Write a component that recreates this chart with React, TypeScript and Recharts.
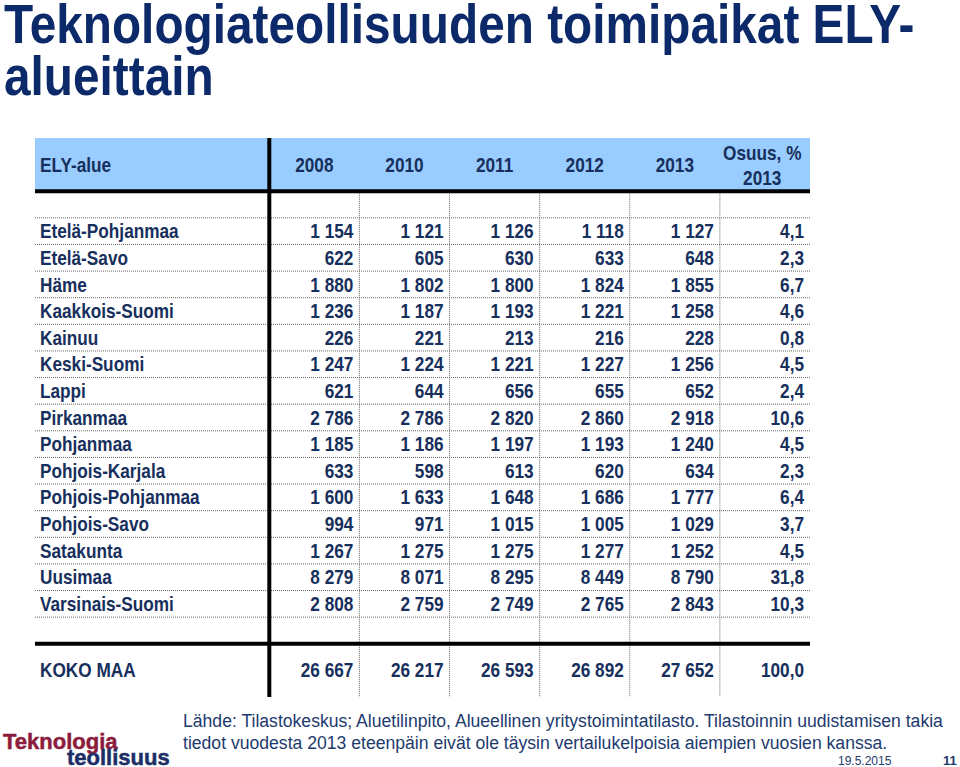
import React from "react";
import {
  ReferenceArea,
  ReferenceLine,
  Scatter,
  ScatterChart,
  XAxis,
  YAxis,
} from "recharts";

const regions = [
  "Etelä-Pohjanmaa",
  "Etelä-Savo",
  "Häme",
  "Kaakkois-Suomi",
  "Kainuu",
  "Keski-Suomi",
  "Lappi",
  "Pirkanmaa",
  "Pohjanmaa",
  "Pohjois-Karjala",
  "Pohjois-Pohjanmaa",
  "Pohjois-Savo",
  "Satakunta",
  "Uusimaa",
  "Varsinais-Suomi",
];

const years = ["2008", "2010", "2011", "2012", "2013"];

const v2008 = [1154, 622, 1880, 1236, 226, 1247, 621, 2786, 1185, 633, 1600, 994, 1267, 8279, 2808];
const v2010 = [1121, 605, 1802, 1187, 221, 1224, 644, 2786, 1186, 598, 1633, 971, 1275, 8071, 2759];
const v2011 = [1126, 630, 1800, 1193, 213, 1221, 656, 2820, 1197, 613, 1648, 1015, 1275, 8295, 2749];
const v2012 = [1118, 633, 1824, 1221, 216, 1227, 655, 2860, 1193, 620, 1686, 1005, 1277, 8449, 2765];
const v2013 = [1127, 648, 1855, 1258, 228, 1256, 652, 2918, 1240, 634, 1777, 1029, 1252, 8790, 2843];
const share2013 = [4.1, 2.3, 6.7, 4.6, 0.8, 4.5, 2.4, 10.6, 4.5, 2.3, 6.4, 3.7, 4.5, 31.8, 10.3];

const totalLabel = "KOKO MAA";
const totals = [26667, 26217, 26593, 26892, 27652];
const totalShare = 100.0;

const shareHeader = ["Osuus, %", "2013"];
const firstHeader = "ELY-alue";

const titleLines = ["Teknologiateollisuuden toimipaikat ELY-", "alueittain"];

const TEXT = "#172f5c";
const FONT = "'Liberation Sans', Arial, sans-serif";
const NARROW = 0.82; // no narrow font installed, squeeze Liberation Sans instead

const fmtInt = (n: number) => String(n).replace(/\B(?=(\d{3})+(?!\d))/g, " ");
const fmtPct = (n: number) => n.toFixed(1).replace(".", ",");

// table grid in axis units: columns 0..6 are data, label column sits left of 0
const X_MIN = -2.6;
const X_MAX = 6;

const valueCols = [v2008, v2010, v2011, v2012, v2013];

// row layout: -2..0 header, 0..1 blank, 1..16 regions, 16..17 blank, 17..19 total
const cells: { x: number; y: number; text: string }[] = [];
valueCols.forEach((col, c) => {
  col.forEach((v, r) => cells.push({ x: c + 1, y: r + 1.5, text: fmtInt(v) }));
  cells.push({ x: c + 1, y: 18, text: fmtInt(totals[c]) });
});
share2013.forEach((v, r) => cells.push({ x: 6, y: r + 1.5, text: fmtPct(v) }));
cells.push({ x: 6, y: 18, text: fmtPct(totalShare) });

const labels = regions.map((name, r) => ({ x: X_MIN, y: r + 1.5, text: name }));
labels.push({ x: X_MIN, y: 18, text: totalLabel });
labels.push({ x: X_MIN, y: -1, text: firstHeader });

const headers = years.map((y, c) => ({ x: c + 0.5, y: -1, text: y }));
headers.push({ x: 5.47, y: -1.45, text: shareHeader[0] });
headers.push({ x: 5.47, y: -0.5, text: shareHeader[1] });

const textStyle = { fontFamily: FONT, fontWeight: 700, fontSize: 21, fill: TEXT };

const cell = (x: number, y: number, anchor: "start" | "middle" | "end", text: string) => (
  <text
    transform={`translate(${x},${y}) scale(${NARROW},1)`}
    textAnchor={anchor}
    dominantBaseline="central"
    style={textStyle}
  >
    {text}
  </text>
);

const RightCell = (p: any) => cell(p.cx - 6, p.cy, "end", p.payload.text);
const LeftCell = (p: any) => cell(p.cx + 5, p.cy, "start", p.payload.text);
const CenterCell = (p: any) => cell(p.cx, p.cy, "middle", p.payload.text);

const dottedRows = Array.from({ length: 16 }, (_, i) => i + 1);
const dottedCols = [1, 2, 3, 4, 5];

const titleStyle = {
  position: "absolute" as const,
  left: 4,
  fontFamily: FONT,
  fontWeight: 700,
  fontSize: 56,
  lineHeight: "50px",
  color: "#0c2a6a",
  whiteSpace: "nowrap" as const,
  transform: "scale(0.853,1)",
  transformOrigin: "0 0",
};

const logoStyle = {
  position: "absolute" as const,
  fontFamily: FONT,
  fontWeight: 700,
  fontSize: 22,
  lineHeight: "16px",
  WebkitTextStroke: "0.5px",
};

export default function App() {
  return (
    <div style={{ position: "absolute", left: 0, top: 0, width: 960, height: 767, background: "#fff", overflow: "hidden" }}>
      <div style={{ ...titleStyle, top: -1 }}>{titleLines[0]}</div>
      <div style={{ ...titleStyle, top: 51 }}>{titleLines[1]}</div>

      <div style={{ position: "absolute", left: 0, top: 0 }}>
        <ScatterChart width={960} height={767} margin={{ top: 138, right: 150, bottom: 70, left: 35 }}>
          <XAxis type="number" dataKey="x" domain={[X_MIN, X_MAX]} hide />
          <YAxis type="number" dataKey="y" domain={[-2, 19]} reversed hide />
          <ReferenceArea x1={X_MIN} x2={X_MAX} y1={-2} y2={0} fill="#99ccff" fillOpacity={1} stroke="none" />
          {dottedRows.map((r) => (
            <ReferenceLine key={"h" + r} y={r} stroke="#666" strokeWidth={1} strokeDasharray="1 1" />
          ))}
          {dottedCols.map((c) => (
            <ReferenceLine
              key={"v" + c}
              segment={[{ x: c, y: 0 }, { x: c, y: 19 }]}
              stroke="#666"
              strokeWidth={1}
              strokeDasharray="1 1"
            />
          ))}
          <ReferenceLine y={0} stroke="#000" strokeWidth={4} />
          <ReferenceLine y={17} stroke="#000" strokeWidth={4} />
          <ReferenceLine segment={[{ x: 0, y: -2 }, { x: 0, y: 19 }]} stroke="#000" strokeWidth={4} />
          <Scatter data={headers} shape={CenterCell} isAnimationActive={false} />
          <Scatter data={labels} shape={LeftCell} isAnimationActive={false} />
          <Scatter data={cells} shape={RightCell} isAnimationActive={false} />
        </ScatterChart>
      </div>

      <div
        style={{
          position: "absolute",
          left: 183,
          top: 710,
          fontFamily: FONT,
          fontSize: 17.6,
          lineHeight: "22px",
          color: "#1d3a6e",
          whiteSpace: "nowrap",
        }}
      >
        Lähde: Tilastokeskus; Aluetilinpito, Alueellinen yritystoimintatilasto. Tilastoinnin uudistamisen takia
        <br />
        tiedot vuodesta 2013 eteenpäin eivät ole täysin vertailukelpoisia aiempien vuosien kanssa.
      </div>
      <div style={{ position: "absolute", left: 838, top: 754, fontFamily: FONT, fontSize: 12, color: "#1d3a6e" }}>
        19.5.2015
      </div>
      <div
        style={{ position: "absolute", left: 943, top: 753, fontFamily: FONT, fontSize: 13, fontWeight: 700, color: "#1d3a6e" }}
      >
        11
      </div>
      <div style={{ ...logoStyle, left: 3, top: 734, color: "#8c1c3c" }}>Teknologia</div>
      <div style={{ ...logoStyle, left: 67, top: 750, color: "#1b2f66" }}>teollisuus</div>
    </div>
  );
}
